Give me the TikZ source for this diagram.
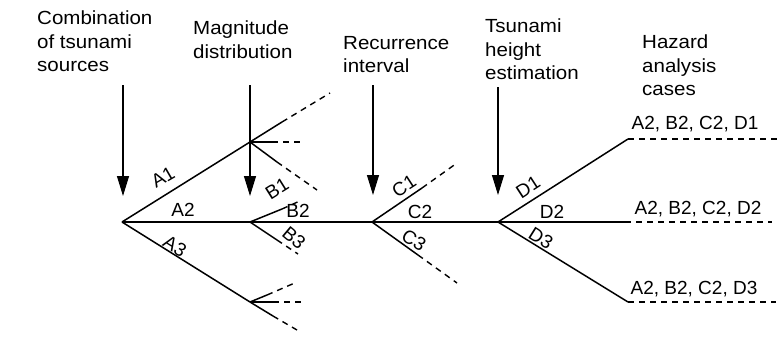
\documentclass[tikz,border=0pt]{standalone}
\usepackage{fontspec}
\setmainfont{Liberation Sans}
\newfontfamily\widefont[FakeStretch=1.08]{Liberation Sans}
\usetikzlibrary{arrows.meta}
\begin{document}
\begin{tikzpicture}[x=1pt,y=-1pt,
  br/.style={line width=1.5pt},
  dsh/.style={line width=1.4pt, dash pattern=on 6pt off 5pt},
  inp/.style={line width=1.2pt,-{Triangle[length=20pt,width=12pt]}},
  hd/.style={font=\widefont\fontsize{19}{23.5}\selectfont, align=left, anchor=north west, inner sep=0pt},
  lb/.style={font=\fontsize{19}{21}\selectfont, inner sep=0pt},
]
\useasboundingbox (0,0) rectangle (779,338);

% headings
\node[hd] (h1) at (37,11) {Combination\\of tsunami\\sources};
\node[hd] (h2) at (193,21) {Magnitude\\distribution};
\node[hd] (h3) at (343,36) {Recurrence\\interval};
\node[hd] (h4) at (485,19) {Tsunami\\height\\estimation};
\node[hd] (h5) at (642,35) {Hazard\\analysis\\cases};

% branch points
\coordinate (a) at (122,222);
\coordinate (b) at (250,222);
\coordinate (b1) at (250,142);
\coordinate (b3) at (250,302);
\coordinate (c) at (372,222);
\coordinate (d) at (498,222);
\coordinate (e1) at (628,139);
\coordinate (e2) at (625,222);
\coordinate (e3) at (628,302);

% input arrows
\coordinate (s1) at (123,85);  \coordinate (t1) at (123,196);
\coordinate (s2) at (250,85);  \coordinate (t2) at (250,196);
\coordinate (s3) at (373,85);  \coordinate (t3) at (373,195);
\coordinate (s4) at (498,87);  \coordinate (t4) at (498,195);
\draw[inp] (s1) -- (t1);
\draw[inp] (s2) -- (t2);
\draw[inp] (s3) -- (t3);
\draw[inp] (s4) -- (t4);

% main tree
\draw[br] (a) -- (b1);
\draw[br] (a) -- (b3);
\draw[br] (a) -- (e2);
\draw[br] (d) -- (e1);
\draw[br] (d) -- (e3);

% open branches at b1
\coordinate (p1) at (282,122); \coordinate (q1) at (330,93);
\coordinate (p2) at (272,142); \coordinate (q2) at (304,142);
\coordinate (p3) at (277,162); \coordinate (q3) at (317,190);
\draw[br] (b1) -- (p1); \draw[dsh] (p1) -- (q1);
\draw[br] (b1) -- (p2); \draw[dsh] (p2) -- (q2);
\draw[br] (b1) -- (p3); \draw[dsh] (p3) -- (q3);

% open branches at b
\coordinate (p4) at (282,209); \coordinate (q4) at (302,200);
\coordinate (p5) at (277,240); \coordinate (q5) at (298,254);
\draw[br] (b) -- (p4); \draw[dsh] (p4) -- (q4);
\draw[br] (b) -- (p5); \draw[dsh] (p5) -- (q5);

% open branches at b3
\coordinate (p6) at (267,295); \coordinate (q6) at (297,282);
\coordinate (p7) at (273,302); \coordinate (q7) at (301,302);
\coordinate (p8) at (273,316); \coordinate (q8) at (297,330);
\draw[br] (b3) -- (p6); \draw[dsh] (p6) -- (q6);
\draw[br] (b3) -- (p7); \draw[dsh] (p7) -- (q7);
\draw[br] (b3) -- (p8); \draw[dsh] (p8) -- (q8);

% open branches at c
\coordinate (p9) at (422,188); \coordinate (q9) at (457,163);
\coordinate (p10) at (418,255); \coordinate (q10) at (457,283);
\draw[br] (c) -- (p9); \draw[dsh] (p9) -- (q9);
\draw[br] (c) -- (p10); \draw[dsh] (p10) -- (q10);

% hazard case tails
\coordinate (f1) at (778,139);
\coordinate (f2) at (772,222);
\coordinate (f3) at (776,302);
\draw[dsh] (e1) -- (f1);
\draw[dsh] (e2) -- (f2);
\draw[dsh] (e3) -- (f3);

% branch labels
\node[lb, rotate=30] (la1) at (163,177) {A1};
\node[lb] (la2) at (183,210) {A2};
\node[lb, rotate=-32] (la3) at (175,246) {A3};
\node[lb, rotate=32] (lb1) at (277,189) {B1};
\node[lb] (lb2) at (298,211) {B2};
\node[lb, rotate=-40] (lb3) at (294,238) {B3};
\node[lb, rotate=33] (lc1) at (404,186) {C1};
\node[lb] (lc2) at (420,212) {C2};
\node[lb, rotate=-32] (lc3) at (414,240) {C3};
\node[lb, rotate=33] (ld1) at (528,187) {D1};
\node[lb] (ld2) at (552,212) {D2};
\node[lb, rotate=-32] (ld3) at (541,238) {D3};

% case labels
\node[lb] (k1) at (695,124) {A2, B2, C2, D1};
\node[lb] (k2) at (698,209) {A2, B2, C2, D2};
\node[lb] (k3) at (694,289) {A2, B2, C2, D3};
\end{tikzpicture}
\end{document}
